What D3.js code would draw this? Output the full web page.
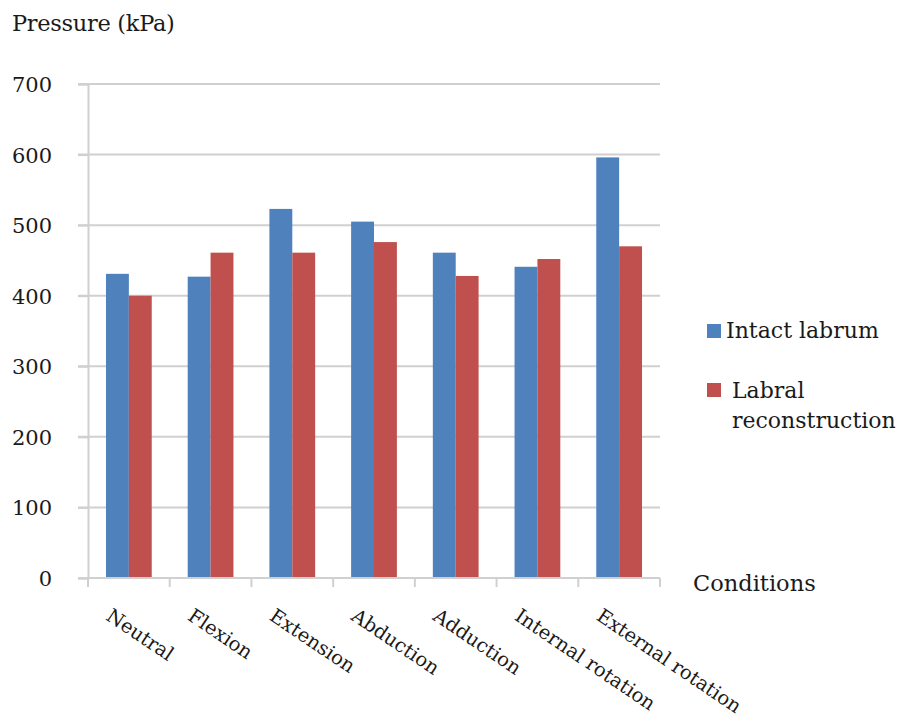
<!DOCTYPE html>
<html>
<head>
<meta charset="utf-8">
<script src="https://cdn.jsdelivr.net/npm/d3@7"></script>
<style>
  html, body { margin: 0; padding: 0; background: #fff; }
</style>
</head>
<body>
<svg id="chart" width="901" height="722"></svg>
<script>
const categories = ["Neutral", "Flexion", "Extension", "Abduction", "Adduction", "Internal rotation", "External rotation"];
const seriesNames = ["Intact labrum", "Labral reconstruction"];
const intactLabrum = [431, 427, 523, 505, 461, 441, 596];
const labralReconstruction = [400, 461, 461, 476, 428, 452, 470];
const yTicks = [0, 100, 200, 300, 400, 500, 600, 700];
const colors = ["#4f81bd", "#c0504d"];

(function () {
const FONT = "'DejaVu Serif', serif";
const svg = d3.select("#chart");
const pLeft = 88, pRight = 660, pTop = 84, pBottom = 578;

const x0 = d3.scaleBand().domain(categories).range([pLeft, pRight]).paddingInner(0.44).paddingOuter(0.22);
const x1 = d3.scaleBand().domain(seriesNames).range([0, x0.bandwidth()]);
const y = d3.scaleLinear().domain([0, 700]).range([pBottom, pTop]);

const gridColor = "#d0d0d0";

svg.append("g").selectAll("line").data(yTicks.filter(d => d > 0)).join("line")
  .attr("x1", pLeft - 10).attr("x2", pRight)
  .attr("y1", d => y(d)).attr("y2", d => y(d))
  .attr("stroke", gridColor).attr("stroke-width", 2);

const yAxis = d3.axisLeft(y).tickValues(yTicks).tickSize(10).tickPadding(26).tickFormat(d3.format("d"));
const gy = svg.append("g").attr("transform", `translate(${pLeft},0)`).call(yAxis)
  .attr("font-family", null).attr("font-size", null);
gy.select(".domain").attr("stroke", gridColor).attr("stroke-width", 2);
gy.selectAll(".tick line").attr("stroke", gridColor).attr("stroke-width", 2);
gy.selectAll(".tick text").style("font-family", FONT).style("font-size", "21px")
  .attr("fill", "#1a1a1a").attr("dy", "0.36em");

const data = categories.map((c, i) => ({ cat: c, vals: [intactLabrum[i], labralReconstruction[i]] }));
const groups = svg.append("g").selectAll("g").data(data).join("g")
  .attr("transform", d => `translate(${x0(d.cat)},0)`);
groups.selectAll("rect").data(d => d.vals.map((v, j) => ({ name: seriesNames[j], v, j }))).join("rect")
  .attr("x", d => x1(d.name)).attr("width", x1.bandwidth())
  .attr("y", d => y(d.v)).attr("height", d => y(0) - y(d.v))
  .attr("fill", d => colors[d.j]);

svg.append("line").attr("x1", pLeft - 10).attr("x2", pRight).attr("y1", y(0)).attr("y2", y(0))
  .attr("stroke", gridColor).attr("stroke-width", 2);
const gap = (x0.step() - x0.bandwidth()) / 2;
const boundaries = categories.map(c => x0(c) - gap).concat([x0(categories[categories.length - 1]) + x0.bandwidth() + gap]);
svg.append("g").selectAll("line").data(boundaries).join("line")
  .attr("x1", d => d).attr("x2", d => d).attr("y1", y(0)).attr("y2", y(0) + 9)
  .attr("stroke", gridColor).attr("stroke-width", 2);

function txt(sel, size, ls) {
  return sel.style("font-family", FONT).style("font-size", size + "px").attr("letter-spacing", ls + "px").attr("fill", "#1a1a1a");
}

txt(svg.append("g").selectAll("text").data(categories).join("text")
  .attr("transform", d => `translate(${x0(d) + x0.bandwidth() / 2 - 24},619) rotate(34)`), 19.5, 0)
  .text(d => d);

txt(svg.append("text").attr("x", 12).attr("y", 31), 22.5, -0.3).text("Pressure (kPa)");
txt(svg.append("text").attr("x", 693).attr("y", 591), 22.5, 0).text("Conditions");

const legend = svg.append("g");
legend.append("rect").attr("x", 707).attr("y", 324).attr("width", 14).attr("height", 14).attr("fill", colors[0]);
txt(legend.append("text").attr("x", 726).attr("y", 338), 22, 0).text(seriesNames[0]);
legend.append("rect").attr("x", 707).attr("y", 383).attr("width", 14).attr("height", 14).attr("fill", colors[1]);
txt(legend.append("text").attr("x", 732).attr("y", 398), 22, 0).text("Labral");
txt(legend.append("text").attr("x", 732).attr("y", 428), 22, 0).text("reconstruction");
})();
</script>
</body>
</html>
